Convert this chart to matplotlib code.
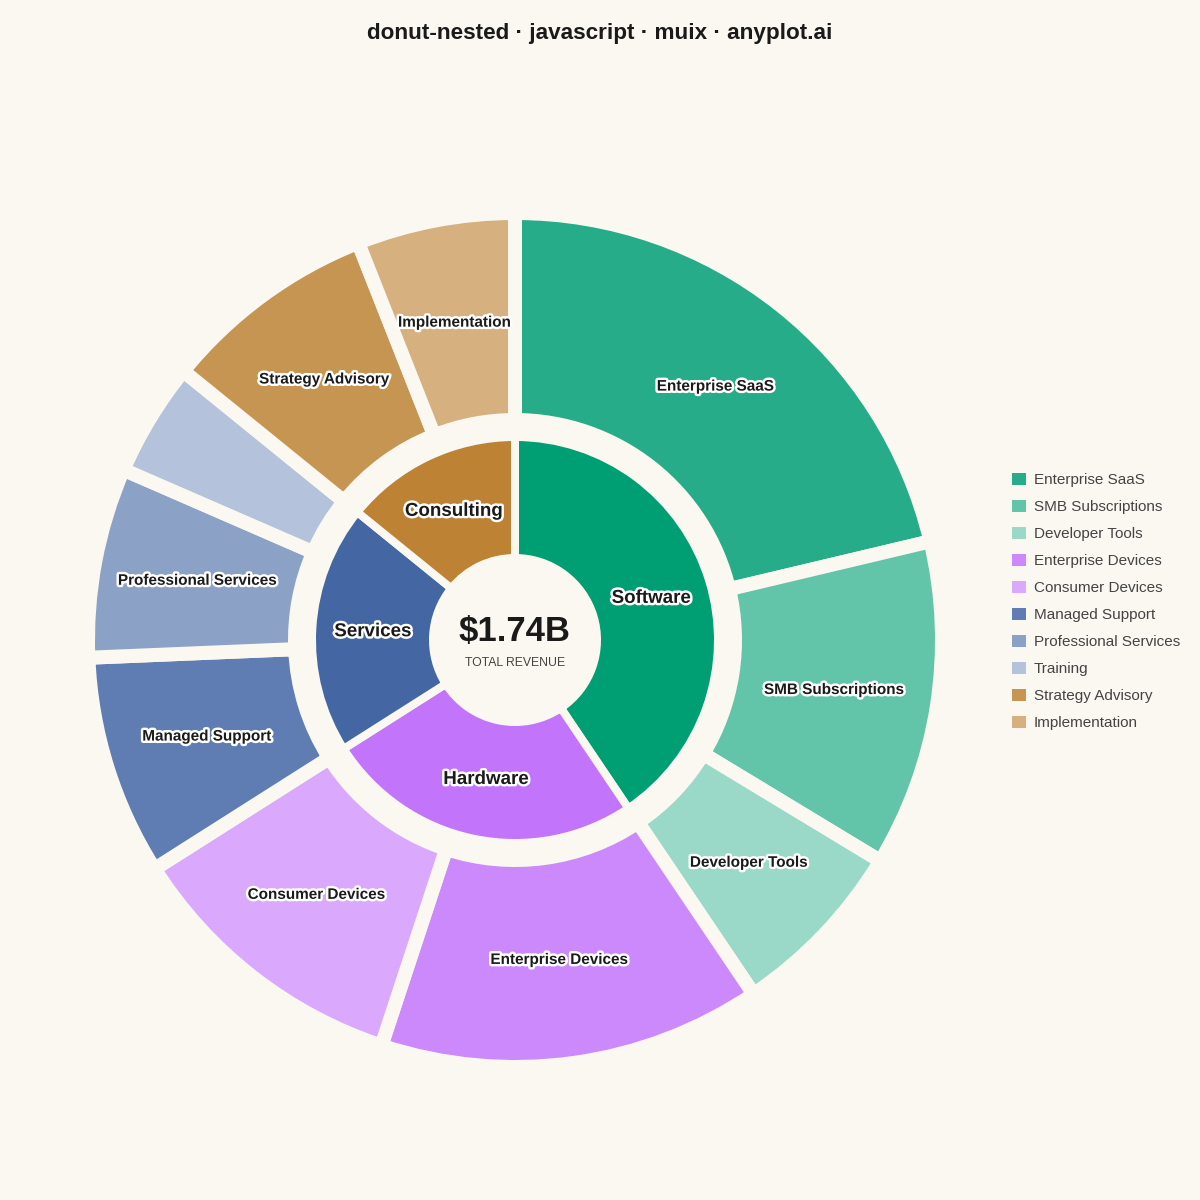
import matplotlib
matplotlib.use('Agg')
import matplotlib.pyplot as plt
import matplotlib.patheffects as pe
from matplotlib.patches import Patch
import numpy as np

plt.rcParams['font.family'] = ['Liberation Sans', 'DejaVu Sans']

# Data (revenue in $M)
groups = ['Software', 'Hardware', 'Services', 'Consulting']
group_colors = ['#009E73', '#C274FB', '#4467A3', '#BD8233']

segments = ['Enterprise SaaS', 'SMB Subscriptions', 'Developer Tools',
            'Enterprise Devices', 'Consumer Devices',
            'Managed Support', 'Professional Services', 'Training',
            'Strategy Advisory', 'Implementation']
segment_values = [370, 215, 120, 252, 190, 145, 125, 75, 142, 104]
segment_group = [0, 0, 0, 1, 1, 2, 2, 2, 3, 3]
segment_colors = ['#26AC88', '#62C4A8', '#9AD8C7',
                  '#CC89FC', '#DAA9FD',
                  '#5F7CB3', '#8CA1C6', '#B4C3DB',
                  '#C69552', '#D6B17F']
hide_label = ['Training']

group_values = [sum(v for v, g in zip(segment_values, segment_group) if g == i)
                for i in range(len(groups))]
total = sum(segment_values)

bg = '#FAF8F1'
text_dark = '#1A1A1A'

fig = plt.figure(figsize=(12, 12), dpi=100, facecolor=bg)
ax = fig.add_axes([0, 0, 1, 1])
ax.set_facecolor(bg)

px = 1 / 420  # one pixel in data units (outer radius = 420 px)

# outer ring
outer_gap = 14
outer_r = 1.0 + outer_gap / 2 * px
outer_in = 227 * px - outer_gap / 2 * px
w_out, _ = ax.pie(segment_values, colors=segment_colors, radius=outer_r,
                  startangle=90, counterclock=False,
                  wedgeprops=dict(width=outer_r - outer_in, edgecolor=bg,
                                  linewidth=outer_gap * 0.72))

# inner ring
inner_gap = 8
inner_r = 199 * px + inner_gap / 2 * px
inner_in = 86 * px - inner_gap / 2 * px
w_in, _ = ax.pie(group_values, colors=group_colors, radius=inner_r,
                 startangle=90, counterclock=False,
                 wedgeprops=dict(width=inner_r - inner_in, edgecolor=bg,
                                 linewidth=inner_gap * 0.72))

halo = [pe.withStroke(linewidth=3.5, foreground='white')]


def mid_point(w, r):
    a = np.deg2rad((w.theta1 + w.theta2) / 2)
    return r * np.cos(a), r * np.sin(a)


r_lab_out = (227 + 419) / 2 * px
for w, name in zip(w_out, segments):
    if name in hide_label:
        continue
    x, y = mid_point(w, r_lab_out)
    ax.text(x, y, name, ha='center', va='center', fontsize=11,
            fontweight='bold', color=text_dark, path_effects=halo)

r_lab_in = (86 + 199) / 2 * px
for w, name in zip(w_in, groups):
    x, y = mid_point(w, r_lab_in)
    ax.text(x, y, name, ha='center', va='center', fontsize=13.5,
            fontweight='bold', color=text_dark, path_effects=halo)

# center text
ax.text(0, 9 * px, f'${total / 1000:.2f}B', ha='center', va='center',
        fontsize=25, fontweight='bold', color=text_dark)
ax.text(0, -23 * px, 'TOTAL REVENUE', ha='center', va='center',
        fontsize=8.8, color='#444444')

ax.set_xlim(-515 * px, 685 * px)
ax.set_ylim(-560 * px, 640 * px)
ax.axis('off')

fig.text(0.5, 1 - 34 / 1200, 'donut-nested · javascript · muix · anyplot.ai',
         ha='center', va='center', fontsize=16.2, fontweight='bold', color=text_dark)

handles = [Patch(facecolor=c, edgecolor='none') for c in segment_colors]
fig.legend(handles, segments, loc='upper left',
           bbox_to_anchor=(998 / 1200, 1 - 459 / 1200), frameon=False,
           fontsize=11, handlelength=0.9, handleheight=0.9,
           handletextpad=0.55, labelspacing=0.81, labelcolor='#444444')

fig.savefig('out.png', dpi=100, facecolor=bg)
